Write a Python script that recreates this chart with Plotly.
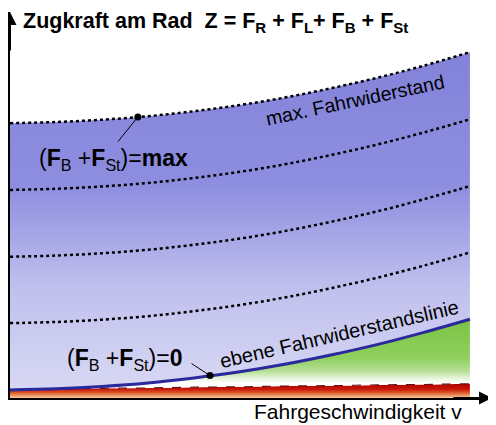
import plotly.graph_objects as go

# Fahrgeschwindigkeit (relative) and force curves
v = [0, 10, 20, 30, 40, 50, 60, 70, 80, 90, 100]
z_null = [0, 0, 0, 0, 0, 0, 0, 0, 0, 0, 0]
z_roll = [2.2, 2.3, 2.5, 2.6, 2.8, 2.9, 3.1, 3.2, 3.4, 3.5, 3.7]
z_eben = [2.1, 2.4, 3.0, 3.9, 5.2, 6.8, 8.8, 11.2, 13.9, 17.0, 20.4]
z_4 = [19.4, 19.7, 20.3, 21.2, 22.5, 24.1, 26.1, 28.5, 31.2, 34.3, 37.7]
z_3 = [36.6, 36.9, 37.5, 38.4, 39.7, 41.3, 43.3, 45.7, 48.4, 51.5, 54.9]
z_2 = [53.9, 54.2, 54.8, 55.7, 57.0, 58.6, 60.6, 63.0, 65.7, 68.8, 72.2]
z_max = [71.2, 71.5, 72.1, 73.0, 74.3, 75.9, 77.9, 80.3, 83.0, 86.1, 89.6]

marker_v = [27.8, 43.5]
marker_z = [72.8, 5.8]

FONT = "Liberation Sans, Arial, sans-serif"

fig = go.Figure()

# base line for the red band
fig.add_trace(go.Scatter(x=v, y=z_null, mode="lines", line=dict(width=0),
                         line_shape="spline", hoverinfo="skip"))
# Rollwiderstand (red band)
fig.add_trace(go.Scatter(
    x=v, y=z_roll, mode="lines", line=dict(width=0), line_shape="spline",
    fill="tonexty",
    fillgradient=dict(type="vertical", start=0, stop=3.7,
                      colorscale=[[0, "#f8cc9c"], [0.35, "#e06030"], [0.6, "#c81808"], [1, "#b00000"]]),
    hoverinfo="skip"))
# green area up to the ebene Fahrwiderstandslinie
fig.add_trace(go.Scatter(
    x=v, y=z_eben, mode="lines", line=dict(width=0), line_shape="spline",
    fill="tonexty",
    fillgradient=dict(type="vertical", start=2, stop=20,
                      colorscale=[[0, "#ffffff"], [0.1, "#ffffff"], [0.17, "#e8f5de"],
                                  [0.27, "#b8e098"], [0.45, "#90d060"], [1, "#7cc444"]]),
    hoverinfo="skip"))
# blue area up to max. Fahrwiderstand
fig.add_trace(go.Scatter(
    x=v, y=z_max, mode="lines", line=dict(width=0), line_shape="spline",
    fill="tonexty",
    fillgradient=dict(type="vertical", start=2, stop=90,
                      colorscale=[[0, "#d8d8f4"], [0.3, "#c0c0ee"], [0.6, "#8e8ee0"], [1, "#8282da"]]),
    hoverinfo="skip"))

# dotted lines for increasing (F_B + F_St)
for zz in [z_4, z_3, z_2, z_max]:
    fig.add_trace(go.Scatter(x=v, y=zz, mode="lines", line_shape="spline",
                             line=dict(color="black", width=2.5, dash="dot"),
                             hoverinfo="skip"))

# top of rolling resistance band
fig.add_trace(go.Scatter(x=v, y=z_roll, mode="lines", line_shape="spline",
                         line=dict(color="#6a1010", width=1.2, dash="dash"),
                         hoverinfo="skip"))
# ebene Fahrwiderstandslinie
fig.add_trace(go.Scatter(x=v, y=z_eben, mode="lines", line_shape="spline",
                         line=dict(color="#2a2a9c", width=3), hoverinfo="skip"))

fig.add_trace(go.Scatter(x=marker_v, y=marker_z, mode="markers",
                         marker=dict(color="black", size=7), hoverinfo="skip"))

annotations = [
    dict(x=2.4, y=97.4, xanchor="left", yanchor="middle",
         text="<b>Zugkraft am Rad&nbsp;&nbsp;Z = F<sub>R</sub> + F<sub>L</sub>+ F<sub>B</sub> + F<sub>St</sub></b>",
         font=dict(size=21.5, color="black", family=FONT)),
    dict(x=75.0, y=77.2, text="max. Fahrwiderstand", textangle=-12,
         font=dict(size=19.5, color="black", family=FONT)),
    dict(x=71.6, y=16.5, text="ebene Fahrwiderstandslinie", textangle=-13,
         font=dict(size=20, color="black", family=FONT)),
    dict(x=22.6, y=61.9,
         text="(<b>F</b><sub>B</sub> +<b>F</b><sub>St</sub>)=<b>max</b>",
         font=dict(size=23, color="black", family=FONT)),
    dict(x=24.8, y=10.1,
         text="(<b>F</b><sub>B</sub> +<b>F</b><sub>St</sub>)=<b>0</b>",
         font=dict(size=23, color="black", family=FONT)),
    # x-axis title below the plot area (paper ref so it is not hidden)
    dict(xref="x", yref="paper", x=75.7, y=-0.034, yanchor="middle",
         text="Fahrgeschwindigkeit v",
         font=dict(size=21, color="black", family=FONT)),
    # leader lines to the dots
    dict(x=marker_v[0], y=marker_z[0], text="", showarrow=True, arrowhead=0,
         arrowwidth=1, arrowcolor="black", ax=-21, ay=26),
    dict(x=marker_v[1], y=marker_z[1], text="", showarrow=True, arrowhead=0,
         arrowwidth=1, arrowcolor="black", ax=-20, ay=-13),
    # axis arrow heads
    dict(xref="paper", yref="paper", x=0, y=1.0, text="", showarrow=True,
         arrowhead=2, arrowsize=1.3, arrowwidth=2, arrowcolor="black", ax=0, ay=40),
    dict(xref="paper", yref="paper", x=1.0, y=0, text="", showarrow=True,
         arrowhead=2, arrowsize=1.3, arrowwidth=2, arrowcolor="black", ax=-40, ay=0),
]
for a in annotations:
    a.setdefault("showarrow", False)
    a.setdefault("xref", "x")
    a.setdefault("yref", "y")

# the page body adds an 8px margin, so the figure is a bit smaller than the window
fig.update_layout(
    width=488, height=417,
    margin=dict(l=2, r=4, t=4, b=27),
    paper_bgcolor="white", plot_bgcolor="white",
    showlegend=False,
    annotations=annotations,
    xaxis=dict(range=[0, 104.8], showline=True, linewidth=2, linecolor="black",
               showticklabels=False, ticks="", showgrid=False, zeroline=False),
    yaxis=dict(range=[0, 100], showline=True, linewidth=2, linecolor="black",
               showticklabels=False, ticks="", showgrid=False, zeroline=False),
)

fig.write_html("out.html")
